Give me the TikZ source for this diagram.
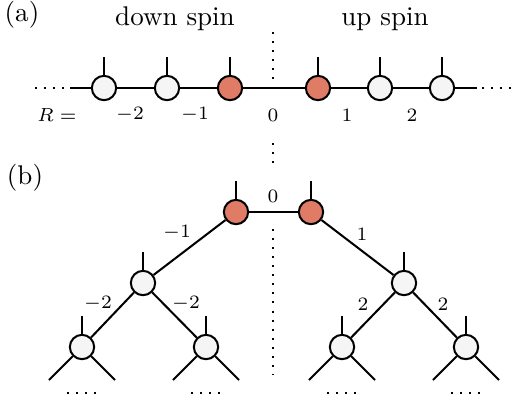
\documentclass[tikz,border=0pt]{standalone}
\definecolor{spinred}{HTML}{E07B65}
\definecolor{spinwhite}{HTML}{F5F5F5}
\begin{document}
\begin{tikzpicture}[x=0.37pt,y=-0.37pt,line width=0.75pt,
  site/.style={circle,draw,minimum size=9pt,inner sep=0pt,fill=spinwhite},
  redsite/.style={site,fill=spinred},
  dotline/.style={dash pattern=on 0.75pt off 2.6pt},
  lab/.style={font=\scriptsize,inner sep=0pt},
  head/.style={inner sep=0pt,anchor=base}]
\useasboundingbox (0,0) rectangle (512,407);
% ---------- (a) ----------
\node[head] (pa) at (22,21) {(a)};
\node[head] (hdown) at (175,25) {down spin};
\node[head] (hup) at (385,25) {up spin};
\node[site] (a1) at (104,88) {};
\node[site] (a2) at (167,88) {};
\node[redsite] (a3) at (230,88) {};
\node[redsite] (a4) at (318,88) {};
\node[site] (a5) at (380,88) {};
\node[site] (a6) at (442,88) {};
\foreach \n/\x in {a1/104,a2/167,a3/230,a4/318,a5/380,a6/442}{
  \coordinate (\n s) at (\x,57);
  \draw (\n) -- (\n s);
}
\coordinate (aL) at (70,88);
\coordinate (aLd) at (35,88);
\coordinate (aR) at (477,88);
\coordinate (aRd) at (511,88);
\draw (aL) -- (a1) -- (a2) -- (a3) -- (a4) -- (a5) -- (a6) -- (aR);
\draw[dotline] (aLd) -- (aL);
\draw[dotline] (482,88) coordinate (aRs) -- (aRd);
\coordinate (v1a) at (273,32);
\coordinate (v1b) at (273,79);
\coordinate (v2a) at (273,143);
\coordinate (v2b) at (273,170);
\coordinate (v3a) at (273,229);
\coordinate (v3b) at (273,374);
\draw[dotline] (v1a) -- (v1b);
\draw[dotline] (v2a) -- (v2b);
\draw[dotline] (v3a) -- (v3b);
\node[lab] (R) at (57,115) {$R=$};
\node[lab] (r1) at (130,115) {$-2$};
\node[lab] (r2) at (195,115) {$-1$};
\node[lab] (r3) at (273,115) {$0$};
\node[lab] (r4) at (347,115) {$1$};
\node[lab] (r5) at (412,115) {$2$};
% ---------- (b) ----------
\node[head] (pb) at (25,184) {(b)};
\node[redsite] (t1) at (236,212) {};
\node[redsite] (t2) at (311,212) {};
\node[site] (m1) at (143,283) {};
\node[site] (m2) at (404,283) {};
\node[site] (l1) at (82,347) {};
\node[site] (l2) at (206,347) {};
\node[site] (l3) at (342,347) {};
\node[site] (l4) at (466,347) {};
\foreach \n/\x/\y in {t1/236/181,t2/311/181,m1/143/252,m2/404/252,l1/82/316,l2/206/316,l3/342/316,l4/466/316}{
  \coordinate (\n s) at (\x,\y);
  \draw (\n) -- (\n s);
}
\draw (t1) -- (t2);
\draw (t1) -- (m1);
\draw (t2) -- (m2);
\draw (m1) -- (l1);
\draw (m1) -- (l2);
\draw (m2) -- (l3);
\draw (m2) -- (l4);
\foreach \n/\x in {l1/82,l2/206,l3/342,l4/466}{
  \coordinate (\n L) at (\x-33,380);
  \coordinate (\n R) at (\x+33,380);
  \coordinate (\n da) at (\x-15,393);
  \coordinate (\n db) at (\x+14,393);
  \draw (\n) -- (\n L);
  \draw (\n) -- (\n R);
  \draw[dotline] (\n da) -- (\n db);
}
\node[lab] (b0) at (273,196) {$0$};
\node[lab] (bm1) at (177,233) {$-1$};
\node[lab] (bp1) at (362,234) {$1$};
\node[lab] (bm2a) at (98,304) {$-2$};
\node[lab] (bm2b) at (186,304) {$-2$};
\node[lab] (bp2a) at (363,304) {$2$};
\node[lab] (bp2b) at (443,304) {$2$};
\end{tikzpicture}
\end{document}
